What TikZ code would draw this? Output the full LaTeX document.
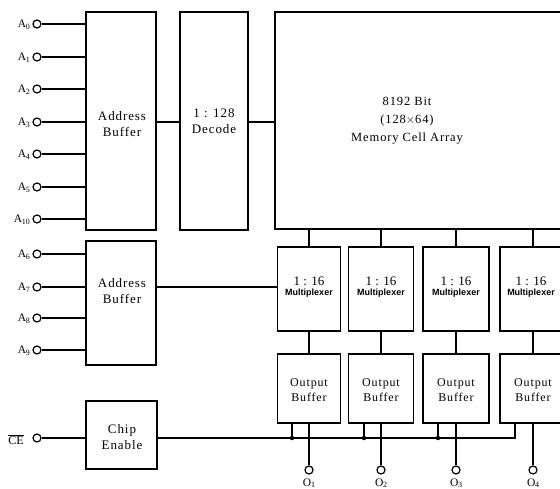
\documentclass[tikz,border=0pt]{standalone}
\usepackage{fontspec}
\setmainfont{Liberation Serif}
\newfontfamily\spaced{Liberation Serif}[LetterSpace=7]
\newfontfamily\muxfont{Liberation Sans}
\begin{document}
\begin{tikzpicture}[x=1pt,y=-1pt,line width=1.2pt,
  blk/.style={draw,rectangle,inner sep=0pt},
  pin/.style={draw,circle,minimum size=8pt,inner sep=0pt,fill=white,line width=1.2pt},
  txt/.style={font=\spaced\fontsize{13}{15.5}\selectfont,align=center,inner sep=0pt},
  otxt/.style={font=\spaced\fontsize{12}{14.5}\selectfont,align=center,inner sep=0pt},
  memtxt/.style={font=\spaced\fontsize{12.5}{15}\selectfont,align=center,inner sep=0pt},
  pinlbl/.style={font=\fontsize{11.5}{12}\selectfont,anchor=east,inner sep=0pt},
  dot/.style={circle,fill,inner sep=0pt,minimum size=4.5pt}]
\useasboundingbox (0,0) rectangle (560,489);
\begin{scope}
\clip (0,0) rectangle (560,489);
% main blocks
\node[blk,minimum width=70pt,minimum height=218pt] (ab1) at (121,121) {};
\node[blk,minimum width=68pt,minimum height=218pt] (dec) at (214,121) {};
\node[blk,minimum width=300pt,minimum height=217pt] (mem) at (425,120.5) {};
\node[blk,minimum width=70pt,minimum height=124pt] (ab2) at (121,303) {};
\node[blk,minimum width=71pt,minimum height=68pt] (ce) at (121.5,435) {};
% multiplexers
\node[blk,minimum width=63pt,minimum height=84pt] (mx1) at (309,289) {};
\node[blk,minimum width=65pt,minimum height=84pt] (mx2) at (381,289) {};
\node[blk,minimum width=66pt,minimum height=84pt] (mx3) at (456,289) {};
\node[blk,minimum width=66pt,minimum height=84pt] (mx4) at (533,289) {};
% output buffers
\node[blk,minimum width=63pt,minimum height=69pt] (ob1) at (309,388.5) {};
\node[blk,minimum width=65pt,minimum height=69pt] (ob2) at (381,388.5) {};
\node[blk,minimum width=66pt,minimum height=69pt] (ob3) at (456,388.5) {};
\node[blk,minimum width=66pt,minimum height=69pt] (ob4) at (533,388.5) {};
% texts
\node[txt] (t1) at (122,124) {Address\\Buffer};
\node[txt] (t2) at (214,121) {1 : 128\\Decode};
\node[memtxt] (t3) at (407,121) {8192 Bit\\[3pt](128$\times$64)\\[3pt]Memory Cell Array};
\node[txt] (t4) at (122,291) {Address\\Buffer};
\node[txt] (t5) at (122,437) {Chip\\Enable};
\foreach \m/\dx in {1/0,2/0,3/0,4/-2}{
  \node[align=center,inner sep=0pt] (mt\m) at ([xshift=\dx pt,yshift=2pt]mx\m.center) {{\fontsize{13}{14}\selectfont 1 : 16}\\[-1.5pt]{\muxfont\fontsize{9}{11}\selectfont\bfseries Multiplexer}};
  \node[otxt] (ot\m) at ([yshift=-1.5pt]ob\m.center) {Output\\Buffer};
}
% address inputs A0..A5, A10
\foreach \n/\lab/\y in {p0/0/24,p1/1/57,p2/2/89,p3/3/122,p4/4/154,p5/5/187,p10/10/219}{
  \node[pin] (\n) at (37,\y) {};
  \node[pinlbl] (l\n) at ([xshift=-2pt,yshift=-0.5pt]\n.west) {A\kern-0.3pt\raisebox{-1.5pt}{\fontsize{8}{8}\selectfont\lab}};
  \draw (\n) -- (\n -| ab1.west);
}
\foreach \n/\lab/\y in {p6/6/254,p7/7/287,p8/8/318,p9/9/350}{
  \node[pin] (\n) at (37,\y) {};
  \node[pinlbl] (l\n) at ([xshift=-2pt,yshift=-0.5pt]\n.west) {A\kern-0.3pt\raisebox{-1.5pt}{\fontsize{8}{8}\selectfont\lab}};
  \draw (\n) -- (\n -| ab2.west);
}
\node[pin] (pce) at (37,438) {};
\node[font=\fontsize{12}{14}\selectfont,inner sep=0pt] (lce) at (16,440) {$\overline{\hbox{CE}}$};
\draw (pce) -- (pce -| ce.west);
% connections
\coordinate (r1) at (ab1.east |- 0,122);
\draw (r1) -- (r1 -| dec.west);
\coordinate (r2) at (dec.east |- 0,122);
\draw (r2) -- (r2 -| mem.west);
\coordinate (r3) at (ab2.east |- 0,287);
\draw (r3) -- (r3 -| mx1.west);
\foreach \m in {1,2,3,4}{
  \draw (mem.south -| mx\m.north) -- (mx\m.north);
  \draw (mx\m.south) -- (ob\m.north);
  \node[pin] (o\m) at (ob\m.south |- 0,470) {};
  \draw (ob\m.south) -- (o\m);
  \node[font=\fontsize{11.5}{12}\selectfont,inner sep=0pt] (lo\m) at ([yshift=-13pt]o\m.center) {O\kern-0.3pt\raisebox{-1.5pt}{\fontsize{8}{8}\selectfont\m}};
}
% chip enable bus
\coordinate (cr) at (515,438);
\draw (ce.east |- cr) -- (cr) -- (cr |- ob4.south);
\foreach \m/\x in {1/292,2/364,3/438}{
  \node[dot] (d\m) at (\x,438) {};
  \draw (d\m.center) -- (d\m.center |- ob\m.south);
}
\end{scope}
\end{tikzpicture}
\end{document}
